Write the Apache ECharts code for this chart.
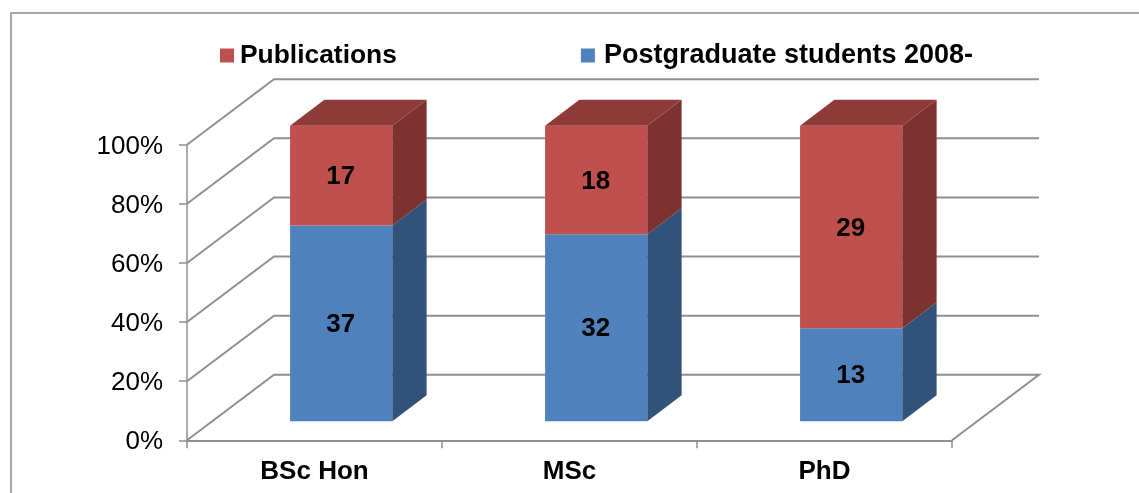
<!DOCTYPE html>
<html>
<head>
<meta charset="utf-8">
<style>html,body{margin:0;padding:0;background:#fff}#c{width:1139px;height:493px}</style>
<script src="https://cdn.jsdelivr.net/npm/echarts@6/dist/echarts.min.js"></script>
</head>
<body>
<div id="c"></div>
<script>
const categories = ['BSc Hon', 'MSc', 'PhD'];
const publicationsCounts = [17, 18, 29];
const postgraduateCounts = [37, 32, 13];
// Share of the column height as drawn in the picture (percent)
const postgraduateShares = [66.2, 63.3, 31.5];
const publicationsShares = [33.8, 36.7, 68.5];
const yTicks = [0, 20, 40, 60, 80, 100];

const FONT = '"Liberation Sans", Arial, sans-serif';
const WALL = { dx: 87, dy: 65.5 };
const PLANE = { dx: 26.7, dy: 19 };
const DEPTH = { dx: 34.3, dy: 26 };
const BAR_RATIO = 0.401;
const GRID_COLOR = '#8f8f8f';

function poly(points, fill) {
  return { type: 'polygon', shape: { points }, style: { fill }, silent: true };
}

function wallItem(params, api) {
  const v = api.value(0);
  const a = api.coord([0, v]);
  const band = api.size([1, 0])[0];
  const x0 = a[0] - band / 2;
  const x1 = x0 + band * categories.length;
  const y = a[1];
  const pts = [[x0, y], [x0 + WALL.dx, y - WALL.dy], [x1 + WALL.dx, y - WALL.dy]];
  if (v === 0) pts.push([x1, y]);
  return {
    type: 'polyline',
    shape: { points: pts },
    style: { stroke: GRID_COLOR, lineWidth: 2, fill: null },
    silent: true
  };
}

function columnRenderer(front, side, top, showTop) {
  return function (params, api) {
    const cat = api.value(0);
    const low = api.coord([cat, api.value(1)]);
    const high = api.coord([cat, api.value(2)]);
    const w = api.size([1, 0])[0] * BAR_RATIO;
    const cx = low[0] + PLANE.dx;
    const l = cx - w / 2, r = cx + w / 2;
    const yb = low[1] - PLANE.dy, yt = high[1] - PLANE.dy;
    const children = [
      poly([[l, yt], [r, yt], [r, yb], [l, yb]], front),
      poly([[r, yt], [r + DEPTH.dx, yt - DEPTH.dy], [r + DEPTH.dx, yb - DEPTH.dy], [r, yb]], side)
    ];
    if (showTop) {
      children.push(poly([[l, yt], [l + DEPTH.dx, yt - DEPTH.dy], [r + DEPTH.dx, yt - DEPTH.dy], [r, yt]], top));
    }
    children.push({
      type: 'text',
      silent: true,
      style: {
        x: cx - 0.5, y: (yt + yb) / 2 + 1.5,
        text: String(api.value(3)),
        fill: '#000',
        font: 'bold 26px ' + FONT,
        align: 'center',
        verticalAlign: 'middle'
      }
    });
    return { type: 'group', children };
  };
}

const postgraduateData = categories.map((c, i) => [i, 0, postgraduateShares[i], postgraduateCounts[i]]);
const publicationsData = categories.map((c, i) => [i, postgraduateShares[i], postgraduateShares[i] + publicationsShares[i], publicationsCounts[i]]);

const chart = echarts.init(document.getElementById('c'), null, { renderer: 'canvas' });
chart.setOption({
  animation: false,
  backgroundColor: '#ffffff',
  grid: { left: 187, right: 187, top: 144.7, bottom: 52.7, containLabel: false },
  legend: {
    left: 215, top: 37,
    data: [
      { name: 'Publications', textStyle: { fontSize: 26.4, padding: [0, 0, 0, 1] } },
      { name: 'Postgraduate students 2008-', textStyle: { fontSize: 27, padding: [0, 0, 0, 4] } }
    ],
    icon: 'rect',
    itemWidth: 14, itemHeight: 14,
    itemGap: 184,
    selectedMode: false,
    textStyle: { fontFamily: FONT, fontWeight: 'bold', fontSize: 27, color: '#000' }
  },
  xAxis: {
    type: 'category',
    data: categories,
    axisLine: { show: true, lineStyle: { color: GRID_COLOR, width: 2 } },
    axisTick: { show: true, length: 8, lineStyle: { color: GRID_COLOR, width: 1.5 } },
    axisLabel: { margin: 19, fontFamily: FONT, fontWeight: 'bold', fontSize: 26, color: '#000' }
  },
  yAxis: {
    type: 'value',
    min: 0, max: 100, interval: 20,
    splitLine: { show: false },
    axisLine: { show: true, lineStyle: { color: GRID_COLOR, width: 1.5 } },
    axisTick: { show: true, length: 8, lineStyle: { color: GRID_COLOR, width: 1.5 } },
    axisLabel: {
      margin: 24,
      formatter: '{v|{value}%}',
      rich: { v: { fontFamily: FONT, fontSize: 26, color: '#000', padding: [4, 0, 0, 0] } }
    }
  },
  graphic: [
    { type: 'polyline', silent: true, z: 0,
      shape: { points: [[11, 493], [11, 13], [1139, 13]] },
      style: { stroke: '#8a8a8a', lineWidth: 1.5, fill: null } }
  ],
  series: [
    {
      name: 'wall', type: 'custom', silent: true, z: 1,
      coordinateSystem: 'cartesian2d',
      data: yTicks.map(v => [v]),
      encode: { y: 0 },
      renderItem: wallItem
    },
    {
      name: 'Postgraduate students 2008-', type: 'custom', z: 3,
      coordinateSystem: 'cartesian2d',
      itemStyle: { color: '#4F81BD' },
      data: postgraduateData,
      encode: { x: 0, y: [1, 2] },
      renderItem: columnRenderer('#4F81BD', '#325379', '#3B6187', false)
    },
    {
      name: 'Publications', type: 'custom', z: 4,
      coordinateSystem: 'cartesian2d',
      itemStyle: { color: '#C0504D' },
      data: publicationsData,
      encode: { x: 0, y: [1, 2] },
      renderItem: columnRenderer('#C0504D', '#7D3230', '#8E3A38', true)
    }
  ]
});
</script>
</body>
</html>
